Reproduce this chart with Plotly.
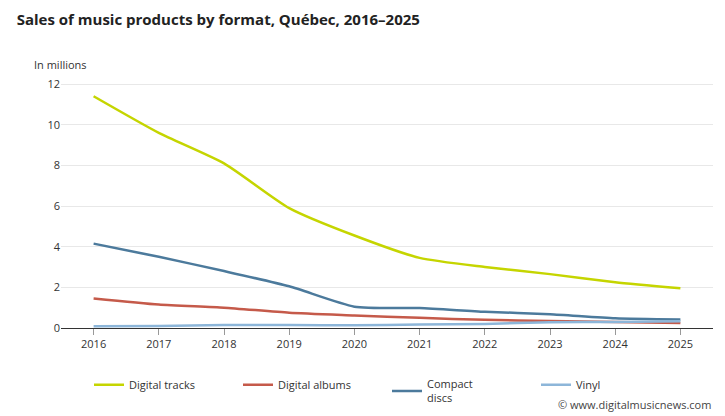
import plotly.graph_objects as go

years = [2016, 2017, 2018, 2019, 2020, 2021, 2022, 2023, 2024, 2025]
digital_tracks = [11.4, 9.6, 8.1, 5.9, 4.55, 3.45, 3.0, 2.65, 2.25, 1.95]
digital_albums = [1.45, 1.15, 1.0, 0.75, 0.62, 0.5, 0.4, 0.35, 0.3, 0.25]
compact_discs = [4.15, 3.5, 2.8, 2.05, 1.05, 0.98, 0.8, 0.68, 0.48, 0.42]
vinyl = [0.08, 0.1, 0.15, 0.15, 0.13, 0.17, 0.2, 0.28, 0.3, 0.33]

series = [
    ("Digital tracks", digital_tracks, "#c5d500"),
    ("Digital albums", digital_albums, "#c55a4a"),
    ("Compact<br>discs", compact_discs, "#4c7a9c"),
    ("Vinyl", vinyl, "#8db6d9"),
]

fig = go.Figure()
for name, vals, color in series:
    fig.add_trace(go.Scatter(x=years, y=vals, name=name, mode="lines",
                             line=dict(color=color, width=2.5, shape="spline", smoothing=0.6)))

fig.update_layout(
    width=725, height=416,
    margin=dict(l=53, r=20, t=72, b=68),
    paper_bgcolor="white", plot_bgcolor="white",
    font=dict(family="Open Sans", size=12, color="#333"),
    title=dict(text="<b>Sales of music products by format, Québec, 2016–2025</b>",
               x=0.012, y=0.985, xanchor="left", yanchor="top", font=dict(size=15, color="#222")),
    legend=dict(orientation="h", x=0.5, xanchor="center", y=-0.17, yanchor="top",
                font=dict(size=11), itemwidth=30, entrywidth=104, tracegroupgap=0),
)
fig.update_xaxes(tickvals=years, range=[2015.5, 2025.5], showline=True, linecolor="#333",
                 ticks="outside", tickcolor="#999", ticklen=6, showgrid=False,
                 tickfont=dict(size=11))
fig.update_yaxes(range=[0, 12.2], dtick=2, gridcolor="#e8e8e8", zeroline=False,
                 tickfont=dict(size=11))
fig.add_annotation(text="In millions", xref="paper", yref="paper", x=-0.045, y=1.1,
                   xanchor="left", showarrow=False, font=dict(size=11))
fig.add_annotation(text="© www.digitalmusicnews.com", xref="paper", yref="paper",
                   x=1.0, y=-0.27, xanchor="right", yanchor="top", showarrow=False,
                   font=dict(size=11, color="#444"))

fig.write_html("out.html")
